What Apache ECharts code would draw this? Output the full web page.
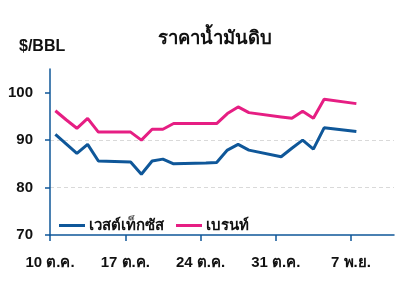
<!DOCTYPE html>
<html><head><meta charset="utf-8">
<script src="https://cdn.jsdelivr.net/npm/echarts@6/dist/echarts.min.js"></script>
<style>html,body{margin:0;padding:0;background:#fff}#c{width:407px;height:297px}</style>
</head><body><div id="c"></div>
<script>
const title = 'ราคาน้ำมันดิบ';
const unitLabel = '$/BBL';
const dates = ['2022-10-10','2022-10-11','2022-10-12','2022-10-13','2022-10-14','2022-10-17','2022-10-18','2022-10-19','2022-10-20','2022-10-21','2022-10-24','2022-10-25','2022-10-26','2022-10-27','2022-10-28','2022-10-31','2022-11-01','2022-11-02','2022-11-03','2022-11-04','2022-11-07'];
const wti =   [91.2, 89.2, 87.2, 89.1, 85.6, 85.4, 82.8, 85.6, 86.0, 85.0, 85.2, 85.3, 87.9, 89.1, 87.9, 86.5, 88.3, 90.0, 88.1, 92.6, 91.8];
const brent = [96.2, 94.3, 92.5, 94.6, 91.7, 91.7, 90.0, 92.3, 92.3, 93.5, 93.5, 93.5, 95.6, 97.0, 95.8, 94.9, 94.6, 96.1, 94.6, 98.6, 97.7];
const seriesNames = ['เวสต์เท็กซัส', 'เบรนท์'];
const tickDates = ['2022-10-10','2022-10-17','2022-10-24','2022-10-31','2022-11-07'];
const tickLabels = ['10 ต.ค.', '17 ต.ค.', '24 ต.ค.', '31 ต.ค.', '7 พ.ย.'];
const axisStart = '2022-10-10', axisEnd = '2022-11-11';
const yTicks = [70, 80, 90, 100];

const DAY = 86400000;
const t0 = Date.parse(axisStart);
const dayOf = d => (Date.parse(d) - t0) / DAY;
const toPts = vals => dates.map((d, i) => [dayOf(d) + 0.5, vals[i]]);
const tickPos = tickDates.map(dayOf);
const labelMap = {};
tickPos.forEach((p, i) => labelMap[p] = tickLabels[i]);

const BLUE = '#0f5799', PINK = '#e61e83';
const FONT = '"Liberation Sans", Arial, sans-serif';
const chart = echarts.init(document.getElementById('c'), null, {renderer: 'canvas'});
chart.setOption({
  animation: false,
  title: [
    {text: title, left: 153, top: 24, textStyle: {fontFamily: FONT, fontSize: 18.5, fontWeight: 'bold', color: '#111'}},
    {text: unitLabel, left: 14, top: 34, textStyle: {fontFamily: FONT, fontSize: 16, fontWeight: 'bold', color: '#111'}}
  ],
  legend: {
    left: 54, top: 213, itemWidth: 26, itemHeight: 3, itemGap: 12,
    icon: 'rect',
    textStyle: {fontFamily: FONT, fontSize: 15, fontWeight: 'bold', color: '#111', padding: [0,0,0,-1]},
    data: seriesNames
  },
  grid: {left: 50, right: 13, top: 69, bottom: 62, containLabel: false},
  xAxis: {
    type: 'value', min: 0, max: dayOf(axisEnd), interval: 7,
    axisLine: {lineStyle: {color: BLUE, width: 1.5}},
    axisTick: {show: true, length: 6, inside: false, customValues: tickPos, lineStyle: {color: BLUE, width: 1.5}},
    axisLabel: {customValues: tickPos, formatter: v => labelMap[v] || '', margin: 20,
      fontFamily: FONT, fontSize: 15, fontWeight: 'bold', color: '#111'},
    splitLine: {show: false}
  },
  yAxis: {
    type: 'value', min: 70, max: 105, interval: 10,
    axisLine: {show: true, lineStyle: {color: BLUE, width: 1.5}},
    axisTick: {show: true, length: 5, customValues: yTicks, lineStyle: {color: BLUE, width: 1.5}},
    axisLabel: {customValues: yTicks, margin: 17, fontFamily: FONT, fontSize: 15, fontWeight: 'bold', color: '#111'},
    splitLine: {show: true, showMinLine: false, showMaxLine: false, lineStyle: {color: '#d9d9d9', type: [4, 3], width: 1}}
  },
  series: [
    {name: seriesNames[0], type: 'line', data: toPts(wti), showSymbol: false, symbol: 'none',
      lineStyle: {color: BLUE, width: 3}, itemStyle: {color: BLUE}},
    {name: seriesNames[1], type: 'line', data: toPts(brent), showSymbol: false, symbol: 'none',
      lineStyle: {color: PINK, width: 3}, itemStyle: {color: PINK}}
  ]
});
</script></body></html>
